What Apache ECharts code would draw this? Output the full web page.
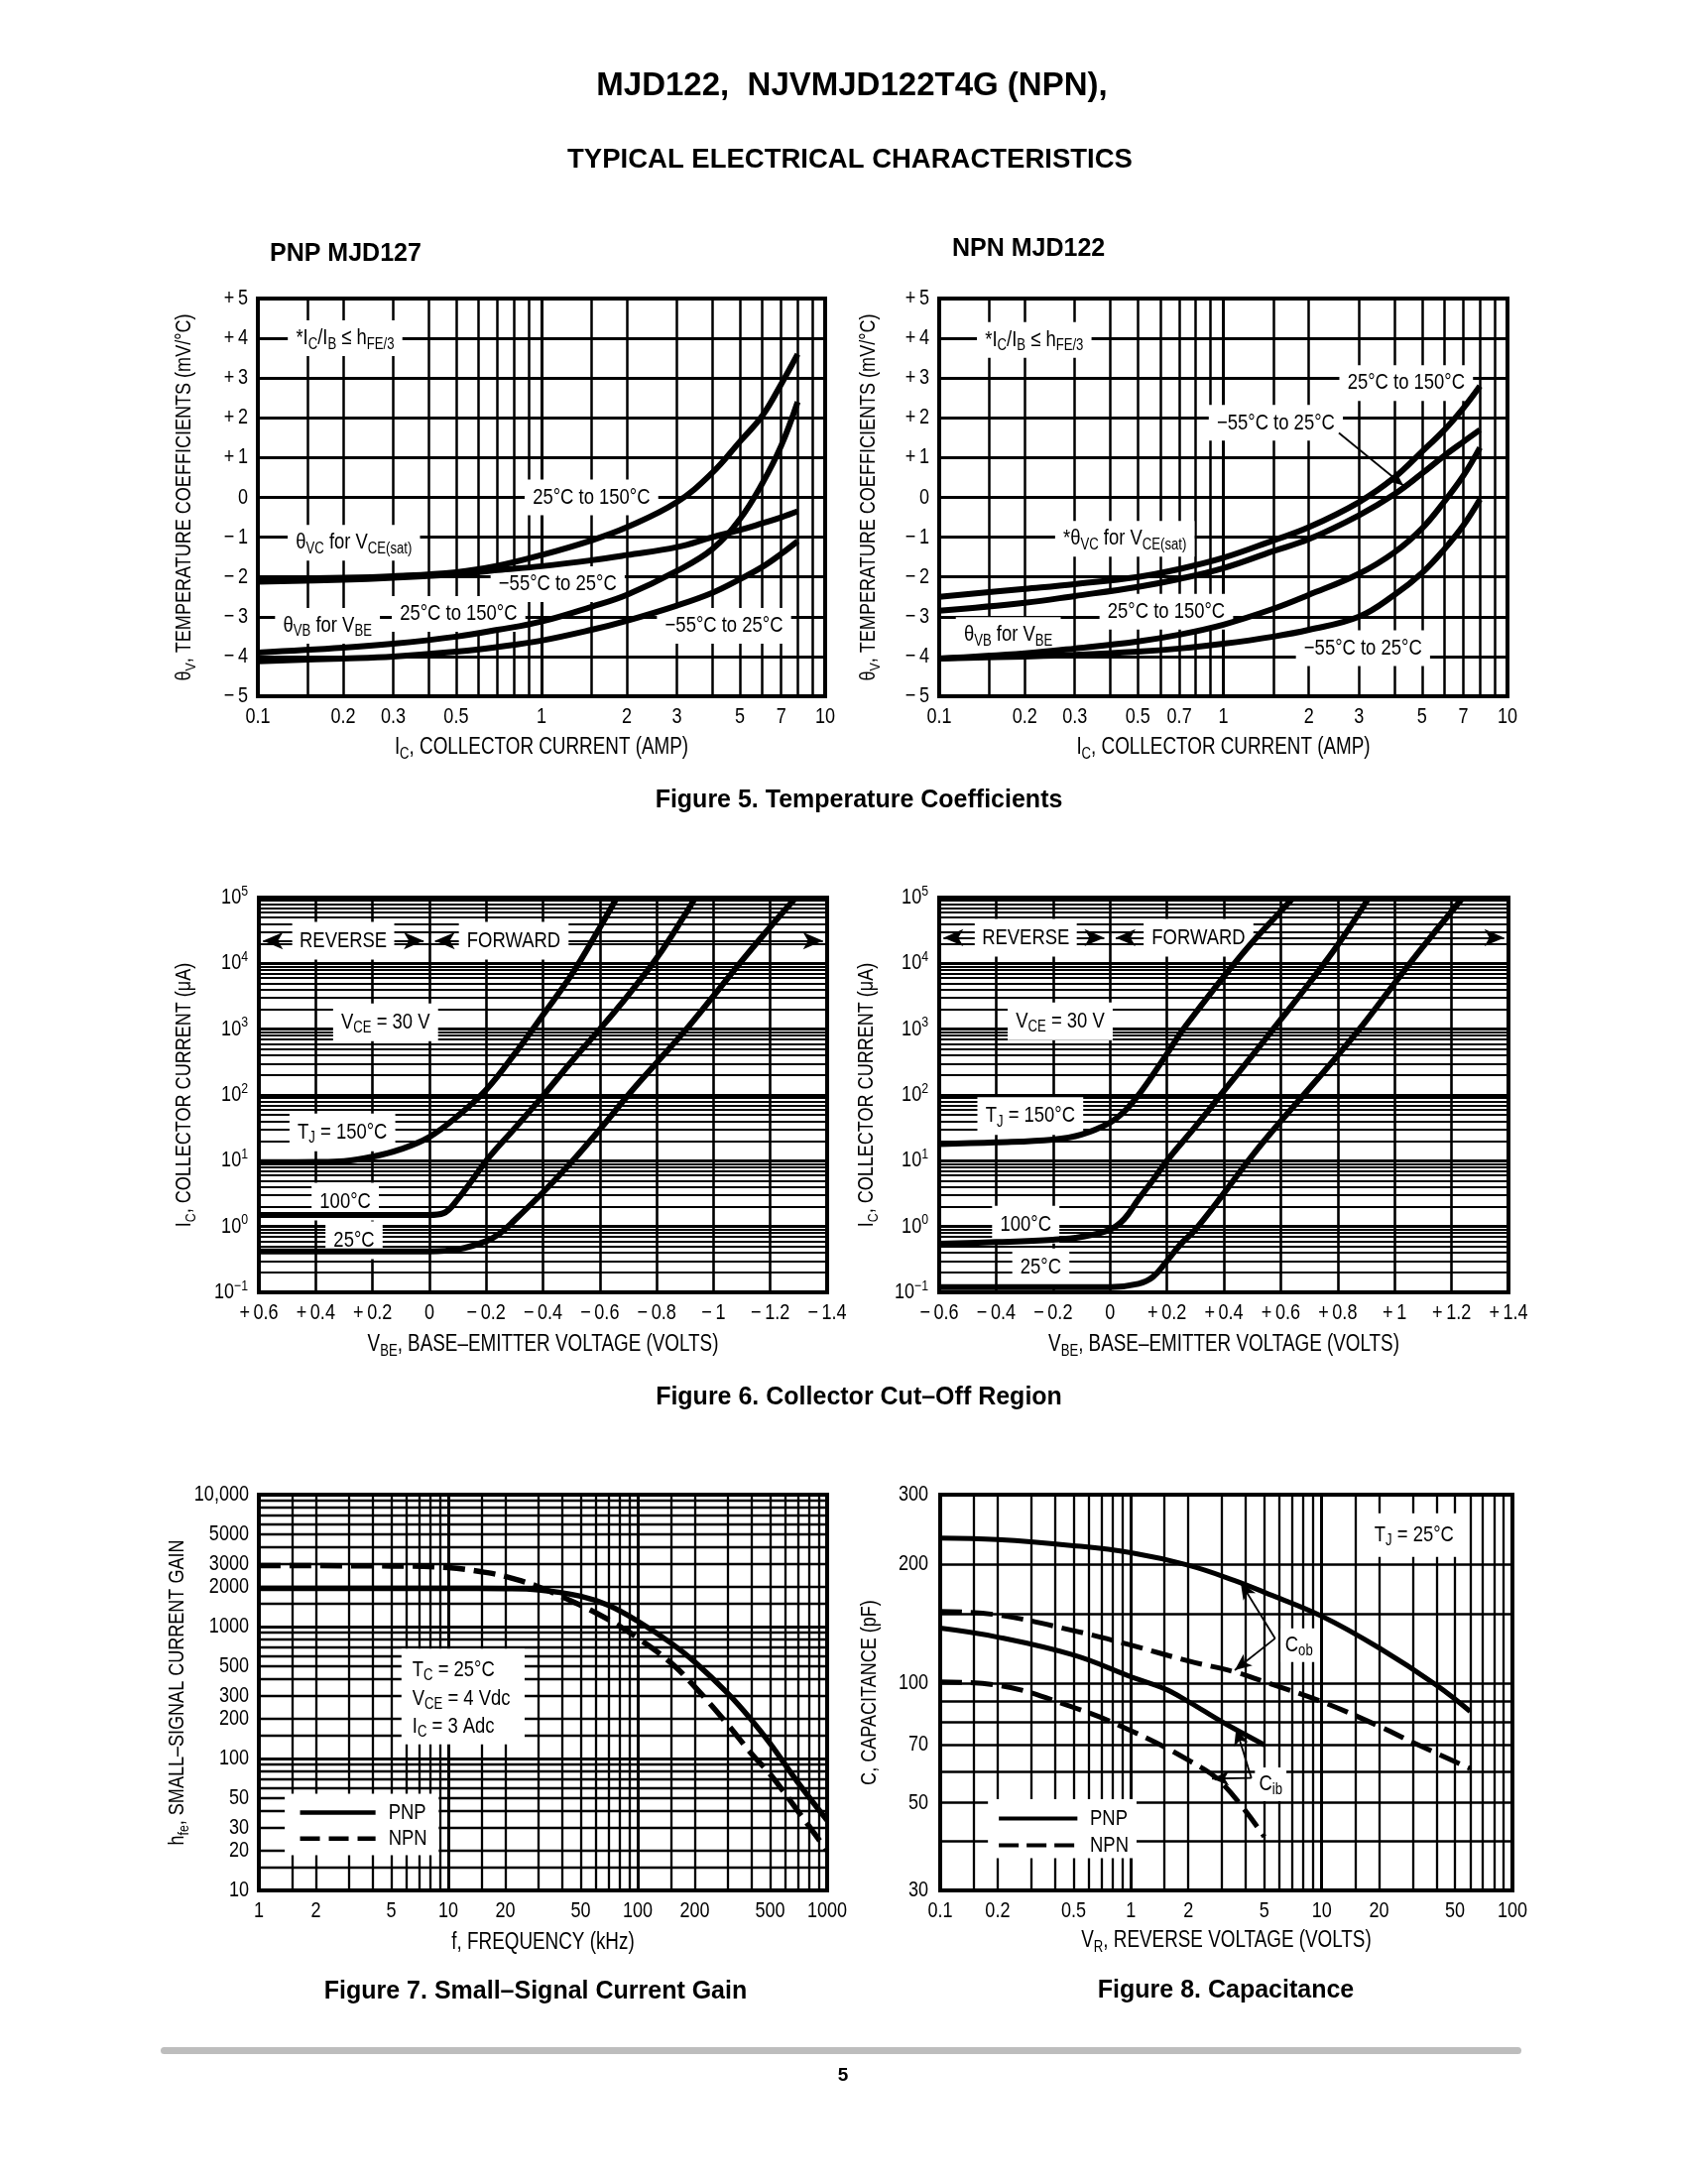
<!DOCTYPE html>
<html><head><meta charset="utf-8">
<script src="https://cdn.jsdelivr.net/npm/echarts@6/dist/echarts.min.js"></script>
<style>html,body{margin:0;padding:0;background:#fff}#c{width:1701px;height:2202px}</style>
</head><body><div id="c"></div>
<script>
// ---------------- DATA ----------------
// Figure 5 : temperature coefficients  [Ic (A), theta (mV/°C)]
const fig5PnpVcHot  = [[0.1,-2.05],[0.2,-2.02],[0.3,-1.98],[0.5,-1.88],[0.7,-1.72],[1,-1.45],[1.5,-1.08],[2,-0.75],[3,-0.12],[4,0.62],[5,1.4],[6,2.05],[7,2.85],[8,3.6]];
const fig5PnpVcCold = [[0.1,-2.12],[0.2,-2.07],[0.3,-2.02],[0.5,-1.93],[0.7,-1.83],[1,-1.73],[1.5,-1.58],[2,-1.45],[3,-1.25],[4,-1.0],[5,-0.82],[6,-0.65],[7,-0.5],[8,-0.35]];
const fig5PnpVbHot  = [[0.1,-3.9],[0.2,-3.78],[0.3,-3.68],[0.5,-3.5],[0.7,-3.33],[1,-3.12],[1.5,-2.75],[2,-2.45],[3,-1.85],[4,-1.3],[5,-0.55],[6,0.35],[7,1.3],[8,2.4]];
const fig5PnpVbCold = [[0.1,-4.12],[0.2,-4.05],[0.3,-4.0],[0.5,-3.88],[0.7,-3.76],[1,-3.6],[1.5,-3.33],[2,-3.1],[3,-2.72],[4,-2.4],[5,-2.06],[6,-1.75],[7,-1.42],[8,-1.1]];
const fig5NpnVcHot  = [[0.1,-2.5],[0.2,-2.3],[0.3,-2.18],[0.5,-2.0],[0.7,-1.8],[1,-1.52],[1.5,-1.08],[2,-0.75],[3,-0.12],[4,0.5],[5,1.15],[6,1.7],[7,2.25],[8,2.8]];
const fig5NpnVcCold = [[0.1,-2.85],[0.2,-2.65],[0.3,-2.48],[0.5,-2.25],[0.7,-2.05],[1,-1.78],[1.5,-1.35],[2,-1.05],[3,-0.45],[4,0.08],[5,0.6],[6,1.05],[7,1.4],[8,1.7]];
const fig5NpnVbHot  = [[0.1,-4.05],[0.2,-3.92],[0.3,-3.8],[0.5,-3.62],[0.7,-3.45],[1,-3.2],[1.5,-2.8],[2,-2.45],[3,-1.92],[4,-1.38],[5,-0.78],[6,-0.1],[7,0.55],[8,1.25]];
const fig5NpnVbCold = [[0.1,-4.05],[0.2,-4.0],[0.3,-3.96],[0.5,-3.88],[0.7,-3.8],[1,-3.68],[1.5,-3.5],[2,-3.33],[3,-3.0],[4,-2.45],[5,-1.9],[6,-1.3],[7,-0.7],[8,-0.05]];
const fig5XTicksPnp = [0.1,0.2,0.3,0.5,1,2,3,5,7,10];
const fig5XTicksNpn = [0.1,0.2,0.3,0.5,0.7,1,2,3,5,7,10];
const fig5YTicks = [-5,-4,-3,-2,-1,0,1,2,3,4,5];
const fig5XGrid = [0.15,0.2,0.3,0.4,0.5,0.6,0.7,0.8,0.9,1,1.5,2,3,4,5,6,7,8,9];

// Figure 6 : collector cut-off  [Vbe (V), Ic (uA)]
const fig6Pnp150 = [[0.6,9.5],[0.4,9.6],[0.3,9.9],[0.2,11.5],[0.1,15],[0,23],[-0.1,48],[-0.2,120],[-0.3,420],[-0.4,1650],[-0.5,6700],[-0.6,35000],[-0.66,100000]];
const fig6Pnp100 = [[0.6,1.5],[0.2,1.5],[0,1.5],[-0.05,1.6],[-0.1,2.6],[-0.15,5],[-0.2,10],[-0.3,31],[-0.4,97],[-0.5,320],[-0.6,1000],[-0.7,3300],[-0.8,12000],[-0.9,55000],[-0.936,100000]];
const fig6Pnp25  = [[0.6,0.42],[0.2,0.42],[0,0.42],[-0.1,0.45],[-0.2,0.6],[-0.25,0.8],[-0.3,1.25],[-0.4,3.3],[-0.5,9.5],[-0.6,30],[-0.7,100],[-0.8,310],[-0.9,950],[-1.0,3200],[-1.1,11000],[-1.2,36000],[-1.29,100000]];
const fig6Npn150 = [[-0.6,18],[-0.4,19],[-0.2,21],[-0.1,25],[0,38],[0.05,56],[0.1,100],[0.15,200],[0.2,420],[0.25,900],[0.3,1750],[0.4,6300],[0.5,21000],[0.6,62000],[0.645,100000]];
const fig6Npn100 = [[-0.6,0.55],[-0.4,0.58],[-0.2,0.63],[-0.1,0.7],[0,0.9],[0.05,1.3],[0.1,2.6],[0.15,5],[0.2,10],[0.3,33],[0.4,115],[0.5,400],[0.6,1400],[0.7,5000],[0.8,19000],[0.91,100000]];
const fig6Npn25  = [[-0.6,0.12],[-0.2,0.12],[0,0.12],[0.1,0.135],[0.15,0.17],[0.2,0.3],[0.25,0.55],[0.3,0.9],[0.4,3.2],[0.5,12],[0.6,40],[0.7,125],[0.8,400],[0.9,1350],[1.0,5000],[1.1,18000],[1.24,100000]];
const fig6XTicksPnp = [0.6,0.4,0.2,0,-0.2,-0.4,-0.6,-0.8,-1,-1.2,-1.4];
const fig6XTicksNpn = [-0.6,-0.4,-0.2,0,0.2,0.4,0.6,0.8,1,1.2,1.4];
const fig6YTicks = [0.1,1,10,100,1000,10000,100000];

// Figure 7 : small-signal current gain  [f (kHz), hfe]
const fig7Pnp = [[1,1950],[10,1950],[20,1940],[30,1900],[50,1700],[70,1450],[100,1100],[150,750],[200,540],[300,310],[400,195],[500,130],[700,66],[1000,34]];
const fig7Npn = [[1,2900],[5,2880],[10,2800],[15,2600],[20,2400],[30,2000],[50,1450],[70,1130],[100,820],[150,530],[200,350],[300,180],[400,108],[500,76],[700,40],[1000,20]];
const fig7XTicks = [1,2,5,10,20,50,100,200,500,1000];
const fig7YTicks = [10,20,30,50,100,200,300,500,1000,2000,3000,5000,10000];

// Figure 8 : capacitance  [Vr (V), C (pF)]
const fig8CobPnp = [[0.1,233],[0.2,231],[0.5,223],[1,214],[2,199],[3.5,182],[5,170],[10,148],[20,123],[40,99],[60,85]];
const fig8CobNpn = [[0.1,152],[0.2,149],[0.5,136],[1,125],[2,114],[3.5,107],[5,101],[10,90],[20,78],[30,71],[60,61]];
const fig8CibPnp = [[0.1,138],[0.2,131],[0.5,118],[1,104],[1.5,97],[2,90],[3,80],[5,70]];
const fig8CibNpn = [[0.1,101],[0.2,99],[0.5,87],[1,76],[2,64],[3,56],[5,41]];
const fig8XTicks = [0.1,0.2,0.5,1,2,5,10,20,50,100];
const fig8YTicks = [30,50,70,100,200,300];
const fig8YGrid = [40,50,60,70,80,90,100,150,200];

// ---------------- RENDER ----------------
const FONT = "'Liberation Sans',Arial,Helvetica,sans-serif";
const SQ = 0.82; // horizontal condensing of chart lettering
const chart = echarts.init(document.getElementById('c'), null, {width:1701, height:2202, renderer:'canvas'});

function logLines(lo, hi, mults) {
  const out = [];
  for (let e = Math.floor(Math.log10(lo)) - 1; e <= Math.ceil(Math.log10(hi)); e++) {
    for (const m of mults) {
      const v = +(m * Math.pow(10, e)).toPrecision(6);
      if (v > lo * 1.0001 && v < hi * 0.9999) out.push(v);
    }
  }
  return out;
}
function rich(fs) {
  return {
    n: {fontSize: fs, fontFamily: FONT, lineHeight: Math.round(fs * 1.25), fill: '#000'},
    s: {fontSize: Math.round(fs * 0.7), fontFamily: FONT, lineHeight: Math.round(fs * 0.62), verticalAlign: 'bottom', fill: '#000'},
    p: {fontSize: Math.round(fs * 0.68), fontFamily: FONT, lineHeight: Math.round(fs * 0.62), verticalAlign: 'top', fill: '#000'}
  };
}

const gridDefs = [
  {left:260, top:301, width:572, height:401},
  {left:947, top:301, width:573, height:401},
  {left:261, top:905, width:573, height:398},
  {left:947, top:905, width:574, height:398},
  {left:261, top:1507, width:573, height:399},
  {left:948, top:1507, width:577, height:399}
];
const grids = gridDefs.map(g => Object.assign({show:true, borderColor:'#000', borderWidth:4, backgroundColor:'rgba(0,0,0,0)', containLabel:false, outerBoundsMode:'none'}, g));

const hidden = {axisLine:{show:false}, axisTick:{show:false}, axisLabel:{show:false}, splitLine:{show:false}};
const linSplit = w => ({axisLine:{show:false}, axisTick:{show:false}, axisLabel:{show:false}, splitLine:{show:true, lineStyle:{color:'#000', width:w}}});

const xAxis = [
  Object.assign({type:'log', logBase:10, gridIndex:0, min:0.1, max:10}, hidden),
  Object.assign({type:'log', logBase:10, gridIndex:1, min:0.1, max:10}, hidden),
  Object.assign({type:'value', gridIndex:2, min:-1.4, max:0.6, interval:0.2, inverse:true}, linSplit(2.6)),
  Object.assign({type:'value', gridIndex:3, min:-0.6, max:1.4, interval:0.2}, linSplit(2.6)),
  Object.assign({type:'log', logBase:10, gridIndex:4, min:1, max:1000}, hidden),
  Object.assign({type:'log', logBase:10, gridIndex:5, min:0.1, max:100}, hidden)
];
const yAxis = [
  Object.assign({type:'value', gridIndex:0, min:-5, max:5, interval:1}, linSplit(3)),
  Object.assign({type:'value', gridIndex:1, min:-5, max:5, interval:1}, linSplit(3)),
  Object.assign({type:'log', logBase:10, gridIndex:2, min:0.1, max:100000}, hidden),
  Object.assign({type:'log', logBase:10, gridIndex:3, min:0.1, max:100000}, hidden),
  Object.assign({type:'log', logBase:10, gridIndex:4, min:10, max:10000}, hidden),
  Object.assign({type:'log', logBase:10, gridIndex:5, min:30, max:300}, hidden)
];

function gridSeries(gi, xs, ys) {
  const data = [];
  xs.forEach(o => data.push({xAxis:o[0], lineStyle:{width:o[1], color:'#000', type:'solid'}}));
  ys.forEach(o => data.push({yAxis:o[0], lineStyle:{width:o[1], color:'#000', type:'solid'}}));
  return {type:'line', xAxisIndex:gi, yAxisIndex:gi, data:[], silent:true, z:1, animation:false,
    markLine:{z:1, silent:true, animation:false, symbol:['none','none'], label:{show:false}, emphasis:{disabled:true}, data}};
}
function curve(gi, data, dashed, w) {
  return {type:'line', xAxisIndex:gi, yAxisIndex:gi, data, smooth:0.4, showSymbol:false, symbol:'none', silent:true, z:10, animation:false,
    lineStyle:{color:'#000', width:w || 6, type: dashed ? [22, 9] : 'solid', cap:'butt', join:'round'}};
}
function arrows(gi, segs, both, size, w, z) {
  return {type:'line', xAxisIndex:gi, yAxisIndex:gi, data:[], silent:true, z:z || 12, animation:false,
    markLine:{z:z || 12, silent:true, animation:false, symbol: both ? ['arrow','arrow'] : ['none','arrow'], symbolSize:size || [11,17], label:{show:false}, emphasis:{disabled:true},
      lineStyle:{color:'#000', width:w || 1.8, type:'solid'},
      data: segs.map(s => [{coord:s[0]}, {coord:s[1]}])}};
}

const f5x = fig5XGrid.map(v => [v, v === 1 ? 3 : 2.5]);
const f6y = logLines(0.1, 100000, [2,3,4,5,6,7,8,9]).map(v => [v, 1.9]).concat(logLines(0.1, 100000, [1]).map(v => [v, 3.2]));
const f7x = logLines(1, 1000, [1.5,2,3,4,5,6,7,8,9]).map(v => [v, 2.3]).concat(logLines(1, 1000, [1]).map(v => [v, 3]));
const f7y = logLines(10, 10000, [1.5,2,3,4,5,6,7,8,9]).map(v => [v, 2.3]).concat(logLines(10, 10000, [1]).map(v => [v, 3]));
const f8x = logLines(0.1, 100, [1.5,2,3,4,5,6,7,8,9]).map(v => [v, 2.3]).concat(logLines(0.1, 100, [1]).map(v => [v, 3]));
const f8y = fig8YGrid.map(v => [v, 2.5]);

const series = [
  gridSeries(0, f5x, []), gridSeries(1, f5x, []), gridSeries(2, [], f6y), gridSeries(3, [], f6y),
  gridSeries(4, f7x, f7y), gridSeries(5, f8x, f8y),
  curve(0, fig5PnpVcHot), curve(0, fig5PnpVcCold), curve(0, fig5PnpVbHot), curve(0, fig5PnpVbCold),
  curve(1, fig5NpnVcHot), curve(1, fig5NpnVcCold), curve(1, fig5NpnVbHot), curve(1, fig5NpnVbCold),
  curve(2, fig6Pnp150), curve(2, fig6Pnp100), curve(2, fig6Pnp25),
  curve(3, fig6Npn150), curve(3, fig6Npn100), curve(3, fig6Npn25),
  curve(4, fig7Pnp, false, 5.5), curve(4, fig7Npn, true, 5.5),
  curve(5, fig8CobPnp, false, 5), curve(5, fig8CobNpn, true, 5), curve(5, fig8CibPnp, false, 5), curve(5, fig8CibNpn, true, 5),
  arrows(1, [[[2.55,1.62],[4.3,0.3]]]),
  arrows(2, [[[0.585,22000],[0.02,22000]], [[-0.02,22000],[-1.385,22000]]], true, [13,20], 2, 5),
  arrows(3, [[[-0.585,24600],[-0.02,24600]], [[0.02,24600],[1.385,24600]]], true, [13,20], 2, 5),
  arrows(5, [[[5.7,130],[3.76,180]], [[5.7,130],[3.5,108]], [[4.28,57.7],[3.56,77]], [[4.28,57.7],[2.66,57.5]]])
];

chart.setOption({animation:false, backgroundColor:'#fff', grid:grids, xAxis, yAxis, series});

// ---------- graphic texts (positions through the chart's scales) ----------
const G = [];
const P = (gi, x, y) => chart.convertToPixel({gridIndex:gi}, [x, y]);
function text(x, y, t, o) {
  o = o || {};
  const fs = o.size || 22.5;
  const st = {text:t, fill:'#000', fontFamily:FONT, fontSize:fs,
    align:o.align || 'center', verticalAlign:o.va || 'middle', textAlign:o.align || 'center', textVerticalAlign:o.va || 'middle',
    rich:rich(fs)};
  if (o.box) { st.backgroundColor = '#fff'; st.padding = o.box; }
  G.push({type:'text', x, y, z:o.z || 8, silent:true, scaleX:SQ, scaleY:1, rotation:o.rot || 0, style:st});
}
function ann(gi, x, y, t, o) { const p = P(gi, x, y); text(p[0], p[1], t, Object.assign({box:[4, 10]}, o || {})); }
function rect(gi, x1, y1, x2, y2) {
  const a = P(gi, x1, y1), b = P(gi, x2, y2);
  G.push({type:'rect', z:7, silent:true, shape:{x:Math.min(a[0],b[0]), y:Math.min(a[1],b[1]), width:Math.abs(b[0]-a[0]), height:Math.abs(b[1]-a[1])}, style:{fill:'#fff'}});
}
function seg(gi, x1, x2, y, dash, w) {
  const a = P(gi, x1, y), b = P(gi, x2, y);
  G.push({type:'line', z:9, silent:true, shape:{x1:a[0], y1:a[1], x2:b[0], y2:b[1]}, style:{stroke:'#000', lineWidth:w || 5, lineDash:dash || null}});
}
const fmtSigned = v => { if (Math.abs(v) < 1e-9) return '0'; const a = Math.round(Math.abs(v) * 10) / 10; return (v > 0 ? '+' : '\u2212') + '\u2009' + a; };
const fmtPow = v => { const e = Math.round(Math.log10(v)); return '{n|10}{p|' + (e < 0 ? '\u2212' + (-e) : e) + '}'; };
const fmtPlain = v => v === 10000 ? '10,000' : String(v);
function xTicks(gi, ticks, fmt) {
  const g = gridDefs[gi];
  ticks.forEach(v => { const px = chart.convertToPixel({xAxisIndex:gi}, v); const s = fmt(v);
    text(px, g.top + g.height + 21, s.indexOf('{') === 0 ? s : '{n|' + s + '}', {size:22}); });
}
function yTicks(gi, ticks, fmt, gap) {
  const g = gridDefs[gi];
  ticks.forEach(v => { const py = chart.convertToPixel({yAxisIndex:gi}, v); const s = fmt(v);
    text(g.left - (gap || 10), py, s.indexOf('{') === 0 ? s : '{n|' + s + '}', {size:22, align:'right'}); });
}
function xName(gi, t, dy) { const g = gridDefs[gi]; text(g.left + g.width / 2, g.top + g.height + (dy || 52), t, {size:23}); }
function yName(gi, t, dx) { const g = gridDefs[gi]; text(g.left - dx, g.top + g.height / 2, t, {size:22, rot:Math.PI / 2}); }

xTicks(0, fig5XTicksPnp, fmtPlain); xTicks(1, fig5XTicksNpn, fmtPlain);
yTicks(0, fig5YTicks, fmtSigned); yTicks(1, fig5YTicks, fmtSigned);
xTicks(2, fig6XTicksPnp, fmtSigned); xTicks(3, fig6XTicksNpn, fmtSigned);
yTicks(2, fig6YTicks, fmtPow, 11); yTicks(3, fig6YTicks, fmtPow, 11);
xTicks(4, fig7XTicks, fmtPlain); yTicks(4, fig7YTicks, fmtPlain);
xTicks(5, fig8XTicks, fmtPlain); yTicks(5, fig8YTicks, fmtPlain, 12);

const nameTheta = '{n|\u03b8}{s|V}{n|, TEMPERATURE COEFFICIENTS (mV/\u00b0C)}';
const nameIc = '{n|I}{s|C}{n|, COLLECTOR CURRENT (AMP)}';
const nameIcUa = '{n|I}{s|C}{n|, COLLECTOR CURRENT (\u03bcA)}';
const nameVbe = '{n|V}{s|BE}{n|, BASE\u2013EMITTER VOLTAGE (VOLTS)}';
yName(0, nameTheta, 74); yName(1, nameTheta, 71);
xName(0, nameIc); xName(1, nameIc);
yName(2, nameIcUa, 75); yName(3, nameIcUa, 73);
xName(2, nameVbe, 53); xName(3, nameVbe, 53);
yName(4, '{n|h}{s|fe}{n|, SMALL\u2013SIGNAL CURRENT GAIN}', 82);
xName(4, '{n|f, FREQUENCY (kHz)}', 53);
yName(5, '{n|C, CAPACITANCE (pF)}', 71);
xName(5, '{n|V}{s|R}{n|, REVERSE VOLTAGE (VOLTS)}', 51);

// Figure 5 annotations
ann(0, 0.203, 4.0, '{n|*I}{s|C}{n|/I}{s|B}{n| \u2264 h}{s|FE/3}');
ann(0, 1.5, 0.0, '{n|25\u00b0C to 150\u00b0C}');
ann(0, 0.218, -1.14, '{n|\u03b8}{s|VC}{n| for V}{s|CE(sat)}');
ann(0, 1.14, -2.18, '{n|\u221255\u00b0C to 25\u00b0C}');
ann(0, 0.51, -2.93, '{n|25\u00b0C to 150\u00b0C}');
ann(0, 0.176, -3.23, '{n|\u03b8}{s|VB}{n| for V}{s|BE}');
ann(0, 4.4, -3.23, '{n|\u221255\u00b0C to 25\u00b0C}');
ann(1, 0.216, 3.96, '{n|*I}{s|C}{n|/I}{s|B}{n| \u2264 h}{s|FE/3}');
ann(1, 4.4, 2.875, '{n|25\u00b0C to 150\u00b0C}');
ann(1, 1.53, 1.875, '{n|\u221255\u00b0C to 25\u00b0C}');
ann(1, 0.45, -1.04, '{n|*\u03b8}{s|VC}{n| for V}{s|CE(sat)}');
ann(1, 0.63, -2.875, '{n|25\u00b0C to 150\u00b0C}');
ann(1, 0.175, -3.46, '{n|\u03b8}{s|VB}{n| for V}{s|BE}');
ann(1, 3.1, -3.79, '{n|\u221255\u00b0C to 25\u00b0C}');

// Figure 6 annotations
ann(2, 0.303, 22000, '{n|REVERSE}', {box:[5, 9]});
ann(2, -0.297, 22000, '{n|FORWARD}', {box:[5, 10]});
ann(2, 0.154, 1270, '{n|V}{s|CE}{n| = 30 V}', {box:[5, 10]});
ann(2, 0.306, 27, '{n|T}{s|J}{n| = 150\u00b0C}', {box:[5, 10]});
ann(2, 0.296, 2.4, '{n|100\u00b0C}', {box:[5, 10]});
ann(2, 0.265, 0.62, '{n|25\u00b0C}', {box:[5, 10]});
ann(3, -0.296, 24600, '{n|REVERSE}', {box:[5, 9]});
ann(3, 0.311, 24600, '{n|FORWARD}', {box:[5, 10]});
ann(3, -0.175, 1320, '{n|V}{s|CE}{n| = 30 V}', {box:[5, 10]});
ann(3, -0.28, 48, '{n|T}{s|J}{n| = 150\u00b0C}', {box:[5, 10]});
ann(3, -0.296, 1.07, '{n|100\u00b0C}', {box:[5, 10]});
ann(3, -0.243, 0.24, '{n|25\u00b0C}', {box:[5, 10]});

// Figure 7 annotations
rect(4, 5.66, 680, 25.3, 128);
(function(){ const a = P(4, 6.46, 467), b = P(4, 6.46, 286), c = P(4, 6.46, 175);
  text(a[0], a[1], '{n|T}{s|C}{n| = 25\u00b0C}', {align:'left'});
  text(b[0], b[1], '{n|V}{s|CE}{n| = 4 Vdc}', {align:'left'});
  text(c[0], c[1], '{n|I}{s|C}{n| = 3 Adc}', {align:'left'}); })();
rect(4, 1.37, 54, 8.9, 18.5);
seg(4, 1.65, 4.13, 39, null, 4.5); seg(4, 1.65, 4.13, 24.7, [20, 9], 4.5);
(function(){ const a = P(4, 4.83, 39), b = P(4, 4.83, 24.7);
  text(a[0], a[1], '{n|PNP}', {align:'left'}); text(b[0], b[1], '{n|NPN}', {align:'left'}); })();

// Figure 8 annotations
ann(5, 30.5, 237, '{n|T}{s|J}{n| = 25\u00b0C}', {box:[8, 13]});
ann(5, 7.6, 125, '{n|C}{s|ob}', {box:[3, 5]});
ann(5, 5.4, 55.6, '{n|C}{s|ib}', {box:[3, 5]});
rect(5, 0.178, 51, 1.07, 36.2);
seg(5, 0.203, 0.524, 45.6, null, 4); seg(5, 0.203, 0.524, 39, [20, 8], 4);
(function(){ const a = P(5, 0.61, 45.6), b = P(5, 0.61, 39);
  text(a[0], a[1], '{n|PNP}', {align:'left'}); text(b[0], b[1], '{n|NPN}', {align:'left'}); })();

// Page texts
function plain(x, y, t, fs, weight, align) {
  G.push({type:'text', x, y, z:8, silent:true, style:{text:t, fill:'#000', fontFamily:FONT, fontSize:fs, fontWeight:weight || 'bold',
    align:align || 'center', verticalAlign:'middle', textAlign:align || 'center', textVerticalAlign:'middle'}});
}
plain(859, 87, 'MJD122,  NJVMJD122T4G (NPN),', 33);
plain(857, 161, 'TYPICAL ELECTRICAL CHARACTERISTICS', 27.5);
plain(272, 256, 'PNP MJD127', 25, 'bold', 'left');
plain(960, 251, 'NPN MJD122', 25, 'bold', 'left');
plain(866, 807, 'Figure 5. Temperature Coefficients', 25);
plain(866, 1409, 'Figure 6. Collector Cut\u2013Off Region', 25);
plain(540, 2008, 'Figure 7. Small\u2013Signal Current Gain', 25);
plain(1236, 2007, 'Figure 8. Capacitance', 25);
G.push({type:'rect', z:7, silent:true, shape:{x:162, y:2064, width:1372, height:7, r:3.5}, style:{fill:'#bdbdbd'}});
plain(850, 2093, '5', 19);

chart.setOption({graphic:{elements:G}});
</script>
</body></html>
